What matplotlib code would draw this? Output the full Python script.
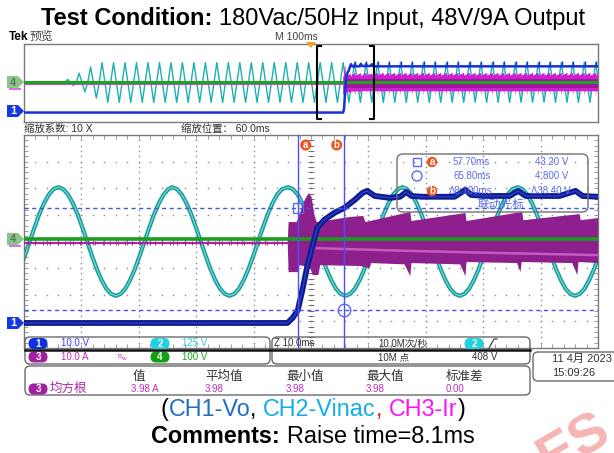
import numpy as np
import matplotlib
matplotlib.use("Agg")
import matplotlib.pyplot as plt
from matplotlib.patches import FancyBboxPatch, Polygon, Circle, Rectangle

plt.rcParams['font.family'] = ['Liberation Sans', 'Noto Sans CJK SC', 'DejaVu Sans']

# vertical scales (per division)
ch1_scale = 10.0    # V, Vo
ch2_scale = 125.0   # V, Vin ac
ch3_scale = 10.0    # A, Ir
ch4_scale = 100.0   # V

# time windows in ms: zoom window (10 ms/div) and overview (100 ms/div)
zoom_win = [10.0, 110.0]
ov_win = [-500.0, 500.0]

# CH1 Vo in the zoom window (ms, V)
vo_t = [10, 55.9, 56.8, 57.7, 58.5, 59.4, 60.3, 61.1, 62.3, 64.1, 65.8, 67.6, 69.0, 69.8, 71.1,
        73.7, 75.5, 76.6, 77.5, 79.4, 85.0, 86.9, 87.9, 90.2, 94.6, 96.1, 97.4, 103.3, 106.1, 107.3, 110]
vo_v = [0, 0, 1.9, 4.8, 12.4, 21.8, 29.3, 35.7, 38.7, 41.4, 43.2, 46.2, 48.9, 49.6, 47.7,
        47.0, 47.4, 49.2, 47.7, 47.4, 47.4, 50.0, 48.1, 47.7, 47.7, 49.6, 47.7, 47.7, 49.6, 47.7, 47.4]

# CH2 Vin: one 20 ms mains cycle read from crest to crest (V), and the crest times (ms)
vin_cycle = [255, 246, 221, 180, 128, 66, 0, -66, -128, -180, -221, -246,
             -255, -246, -221, -180, -128, -66, 0, 66, 128, 180, 221, 246]
vin_crest_t = [-4.0, 16.0, 35.8, 56.0, 75.9, 96.0]

# CH3 Ir band in the zoom window: upper and lower envelope (ms, A)
ir_hi_t = [55.95, 56.1, 57.5, 58.0, 58.9, 59.6, 60.1, 60.6, 61.0, 63.2, 66.7, 69.1, 69.5,
           77.3, 77.5, 86.9, 87.1, 96.8, 97.0, 106.8, 107.0, 110]
ir_hi = [0.8, 7.9, 7.9, 10.9, 16.2, 18.8, 17.3, 10.5, 7.9, 8.6, 9.8, 10.2, 7.9,
         11.7, 8.3, 11.3, 8.3, 11.7, 8.6, 10.9, 8.6, 9.4]
ir_lo_t = [55.95, 56.1, 57.7, 58.0, 59.8, 60.3, 61.3, 61.6, 68.5, 70.2, 70.5, 76.3, 77.3, 77.5,
           86.0, 86.9, 87.1, 95.9, 96.5, 96.7, 105.5, 106.4, 106.6, 110]
ir_lo = [-0.8, -10.9, -10.9, -8.3, -9.0, -12.0, -12.0, -8.3, -8.6, -9.4, -7.5, -8.0, -12.4, -7.5,
         -8.0, -12.4, -7.1, -7.5, -10.9, -7.1, -7.5, -12.0, -7.1, -7.5]
ir_mid_t = [61.0, 75.0, 90.0, 110.0]
ir_mid = [-1.9, -2.8, -3.6, -4.5]
ir_tooth_hi = [8.6, 11.5]     # ripple tooth, start / end of each 10 ms period
ir_tooth_lo = [-7.5, -12.2]

# overview: mains switched on at about -429 ms, first cycles build up (V peak)
ov_vin_start = -429.0
ov_vin_amp = [40, 120, 200] + [255] * 44

# cursors
cur_a_t, cur_b_t = 57.70, 65.80     # ms
cur_a_v, cur_b_v = 43.20, 4.80      # V

ch_labels = ['10.0 V', '125 V', '10.0 A', '100 V']
stat_heads = ['值', '平均值', '最小值', '最大值', '标准差']
stat_vals = ['3.98 A', '3.98', '3.98', '3.98', '0.00']

W, H = 614, 453
fig = plt.figure(figsize=(W / 100, H / 100), dpi=100)
fig.patch.set_facecolor('white')


def px_axes(x0, y0, x1, y1, z=1):
    return fig.add_axes([x0 / W, 1 - y1 / H, (x1 - x0) / W, (y1 - y0) / H], zorder=z)


# ---------------- overview panel ----------------
ax_ov = px_axes(24, 44, 598, 122)
ax_ov.set_xlim(ov_win)
ax_ov.set_ylim(-4, 4)
ax_ov.set_xticks([])
ax_ov.set_yticks([])
for s in ax_ov.spines.values():
    s.set_color('#7a7a7a')
    s.set_linewidth(1.0)
off_ov = {'ch1': -3.03, 'ch2': 0.05, 'ch3': -0.1, 'ch4': 0.1}

t, v = [], []
for i, a in enumerate(ov_vin_amp):
    t0 = ov_vin_start + 20 * i
    t += [t0, t0 + 5, t0 + 10, t0 + 15]
    v += [0, a, 0, -a]
ax_ov.plot(t, np.array(v) / ch2_scale + off_ov['ch2'], color='#1cb0b0', lw=1.0, zorder=2)

# Ir band: zoom-window envelope, then the 10 ms ripple teeth up to the end
drops = np.arange(116.8, ov_win[1] + 10, 10.0)
hi_t = list(ir_hi_t) + [x for d in drops for x in (d - 9.8, d)]
hi_v = list(ir_hi) + [x for d in drops for x in ir_tooth_hi]
lo_t = list(ir_lo_t) + [x for d in drops for x in (d - 1.0, d, d + 0.2)]
lo_v = list(ir_lo) + [x for d in drops for x in (ir_tooth_lo[0], ir_tooth_lo[1], ir_tooth_lo[0])]
ax_ov.fill(hi_t + lo_t[::-1], np.array(hi_v + lo_v[::-1]) / ch3_scale + off_ov['ch3'],
           color='#d01fd0', lw=0, zorder=3)
ax_ov.fill_between([60, ov_win[1]], -4.5 / ch3_scale + off_ov['ch3'], 5.0 / ch3_scale + off_ov['ch3'],
                   color='#a0189f', lw=0, zorder=3)
ax_ov.plot([ov_win[0], vo_t[1]], [off_ov['ch3']] * 2, color='#d040d0', lw=1.4, zorder=3)
ax_ov.axhline(off_ov['ch4'], color='#22a022', lw=2.2, zorder=4)

ov_vo_t = [ov_win[0]] + vo_t + [ov_win[1]]
ov_vo_v = np.array([0] + vo_v + [vo_v[-1]]) / ch1_scale + off_ov['ch1']
ax_ov.plot(ov_vo_t, ov_vo_v, color='#1a2fd6', lw=1.8, zorder=5)
bt = np.arange(76.6, ov_win[1], 20)
ax_ov.plot(bt, np.full_like(bt, 51.0) / ch1_scale + off_ov['ch1'], ls='none', marker='|',
           ms=3, mew=1.0, color='#1a2fd6', zorder=5)

# zoom brackets
for x, d in ((zoom_win[0], 1), (zoom_win[1], -1)):
    ax_ov.plot([x + d * 8, x, x, x + d * 8], [3.8, 3.8, -3.7, -3.7], color='black', lw=1.5, zorder=6)

# ---------------- zoom panel ----------------
ax_m = px_axes(24, 135, 598, 348)
ax_m.set_xlim(zoom_win)
ax_m.set_ylim(-4, 4)
ax_m.set_xticks(np.arange(zoom_win[0], zoom_win[1] + 0.1, 2))
ax_m.set_yticks(np.arange(-4, 4.01, 0.2))
ax_m.tick_params(direction='in', length=3, width=0.6, color='#8a8a8a', top=True, right=True,
                 labelbottom=False, labelleft=False)
for s in ax_m.spines.values():
    s.set_color('#7a7a7a')
    s.set_linewidth(1.0)
off_m = {'ch1': -3.06, 'ch2': 0.0, 'ch3': -0.06, 'ch4': 0.08}

gy = np.arange(-4, 4.01, 0.2)
gx = np.arange(zoom_win[0], zoom_win[1] + 0.1, 2)
for xv in np.arange(zoom_win[0] + 10, zoom_win[1], 10):
    ax_m.plot(np.full_like(gy, xv), gy, ls='none', marker='s', ms=1.0, mew=0, color='#8c8c8c', zorder=1)
for yv in range(-3, 4):
    ax_m.plot(gx, np.full_like(gx, yv), ls='none', marker='s', ms=1.0, mew=0, color='#8c8c8c', zorder=1)
xc = (zoom_win[0] + zoom_win[1]) / 2
ax_m.plot(np.full_like(gy, xc), gy, ls='none', marker='_', ms=4, mew=0.7, color='#6e6e6e', zorder=1)
ax_m.plot(gx, np.zeros_like(gx), ls='none', marker='|', ms=4, mew=0.7, color='#6e6e6e', zorder=1)

vt, vv = [], []
for c in vin_crest_t:
    for k, val in enumerate(vin_cycle):
        vt.append(c + k * 20 / len(vin_cycle))
        vv.append(val)
vv = np.array(vv) / ch2_scale + off_m['ch2']
ax_m.plot(vt, vv, color='#179a9a', lw=3.0, zorder=2, solid_joinstyle='round')
ax_m.plot(vt, vv, color='#74d6d6', lw=0.9, zorder=2)

ax_m.fill(ir_hi_t + ir_lo_t[::-1], np.array(ir_hi + ir_lo[::-1]) / ch3_scale + off_m['ch3'],
          color='#8e208e', lw=0, zorder=3)
ax_m.plot(ir_mid_t, np.array(ir_mid) / ch3_scale + off_m['ch3'], color='#c55ac5', lw=1.8, zorder=3)
ax_m.plot([zoom_win[0], ir_hi_t[0]], [off_m['ch3']] * 2, color='#b51db5', lw=1.6, zorder=3)
nt = np.arange(zoom_win[0] + 0.7, ir_hi_t[0], 1.3)
ax_m.plot(nt, np.full_like(nt, off_m['ch3']), ls='none', marker='|', ms=3.5, mew=0.6, color='#7a2a7a', zorder=4)
ax_m.axhline(off_m['ch4'], color='#1b9e1b', lw=2.6, zorder=4)

vo = np.array(vo_v) / ch1_scale + off_m['ch1']
ax_m.plot(vo_t, vo, color='#0e1c8e', lw=4.2, zorder=5, solid_joinstyle='round')
ax_m.plot(vo_t, vo, color='#2a3cc8', lw=1.0, zorder=5)

cur_col = '#4d4dff'
for ct in (cur_a_t, cur_b_t):
    ax_m.axvline(ct, color=cur_col, lw=1.0, zorder=6)
for cv in (cur_a_v, cur_b_v):
    ax_m.axhline(cv / ch1_scale + off_m['ch1'], color='#3c5ae6', lw=1.0, ls=(0, (3, 2.5)), zorder=6)
ax_m.plot([cur_a_t], [cur_a_v / ch1_scale + off_m['ch1']], marker='s', ms=7, mfc='none', mec='#5a6af0', mew=1.0, zorder=7)
ax_m.plot([cur_b_t], [cur_b_v / ch1_scale + off_m['ch1']], marker='o', ms=9, mfc='none', mec='#5a6af0', mew=1.0, zorder=7)

# ---------------- overlay: texts, badges, boxes ----------------
ax_o = px_axes(0, 0, W, H, z=10)
ax_o.set_xlim(0, W)
ax_o.set_ylim(H, 0)
ax_o.axis('off')
ax_o.patch.set_alpha(0)


def tx(x, y, s, c='#2a2a2a', fs=7, ha='left', **kw):
    return ax_o.text(x, y, s, color=c, fontsize=fs, ha=ha, va='center', **kw)


def badge(x, y, s, fc, w=19, h=11, fs=7):
    ax_o.add_patch(FancyBboxPatch((x - w / 2, y - h / 2), w, h, boxstyle=f'round,pad=0,rounding_size={h / 2}',
                                  fc=fc, ec='none'))
    tx(x, y + 0.5, s, c='white', fs=fs, ha='center', fontweight='bold')


def rbox(x0, y0, x1, y1, r=5, ec='#6a6a6a', lw=1.0):
    ax_o.add_patch(FancyBboxPatch((x0, y0), x1 - x0, y1 - y0, boxstyle=f'round,pad=0,rounding_size={r}',
                                  fc='none', ec=ec, lw=lw))


def ch_marker(y, s, fc, tc, h=12):
    ax_o.add_patch(Polygon([(7, y - h / 2), (18, y - h / 2), (24, y), (18, y + h / 2), (7, y + h / 2)],
                           closed=True, fc=fc, ec='none'))
    tx(13, y + 0.5, s, c=tc, fs=8, ha='center', fontweight='bold')


def rich_line(y, parts, size, xc=313):
    r = fig.canvas.get_renderer()

    def wid(s, wgt):
        t = ax_o.text(0, 0, s, fontsize=size, fontweight=wgt)
        w = t.get_window_extent(renderer=r).width
        t.remove()
        return w
    sp = wid('a a', 'normal') - wid('aa', 'normal')
    items, total = [], 0
    for s, c, wgt in parts:
        lead = sp if s.startswith(' ') else 0
        w = wid(s.strip(), wgt)
        items.append((lead, s.strip(), c, wgt, w))
        total += lead + w
    x = xc - total / 2
    for lead, s, c, wgt, w in items:
        x += lead
        ax_o.text(x, y, s, fontsize=size, color=c, fontweight=wgt, va='baseline', ha='left')
        x += w


rich_line(25, [('Test Condition:', 'black', 'bold'), (' 180Vac/50Hz Input, 48V/9A Output', 'black', 'normal')], 17)
rich_line(416, [('(', 'black', 'normal'), ('CH1-Vo', '#1f6fc0', 'normal'), (',', 'black', 'normal'),
                (' CH2-Vinac', '#12aeea', 'normal'), (',', '#e02020', 'normal'),
                (' CH3-Ir', '#ff10ff', 'normal'), (')', 'black', 'normal')], 16.8)
rich_line(443, [('Comments:', 'black', 'bold'), (' Raise time=8.1ms', 'black', 'normal')], 16.8)

tx(9, 37, 'Tek', c='black', fs=8.5, fontweight='bold')
tx(30, 37, '预览', c='#444444', fs=8.5)
tx(296, 37, 'M 100ms', c='#404040', fs=7.5, ha='center')
ax_o.add_patch(Polygon([(306, 42), (316, 42), (311, 48)], closed=True, fc='#f5a020', ec='none'))
tx(24, 129, '缩放系数: 10 X', c='#303030', fs=7.5)
tx(181, 129, '缩放位置： 60.0ms', c='#303030', fs=7.5)

ch_marker(82, '4', '#8cc48c', '#4f7f4f')
ax_o.add_patch(Rectangle((9, 88), 12, 2, fc='#e070e0', ec='none'))
ch_marker(111, '1', '#1538e0', 'white')
ch_marker(239, '4', '#8cc48c', '#4f7f4f')
ax_o.add_patch(Rectangle((9, 245), 12, 2, fc='#e070e0', ec='none'))
ch_marker(323, '1', '#1538e0', 'white')

# cursor badges and readout
for x, s in ((305.7, 'a'), (336.7, 'b')):
    ax_o.add_patch(Circle((x, 145), 5.5, fc='#f0521c', ec='none'))
    tx(x, 145, s, c='white', fs=7, ha='center', fontweight='bold')
rbox(397, 154, 588, 212, r=6, ec='#707070')
rc = '#5a6af0'
ax_o.add_patch(Rectangle((413, 158), 8, 8, fc='none', ec=rc, lw=1.0))
ax_o.add_patch(Circle((417, 176), 5, fc='none', ec=rc, lw=1.0))
for y, s in ((162, 'a'), (191, 'b')):
    ax_o.add_patch(Circle((432, y), 5.2, fc='#f0521c', ec='none'))
    tx(432, y, s, c='white', fs=7, ha='center', fontweight='bold')
tx(453, 162, f'{cur_a_t:.2f}ms', c=rc)
tx(535, 162, f'{cur_a_v:.2f} V', c=rc)
tx(453, 176, f'{cur_b_t:.2f}ms', c=rc)
tx(535, 176, f'{cur_b_v:.3f} V', c=rc)
tx(449, 191, f'Δ{cur_b_t - cur_a_t:.3f}ms', c=rc)
tx(531, 191, f'Δ{cur_a_v - cur_b_v:.2f} V', c=rc)
tx(501, 205, '联动光标', c=rc, fs=8.5, ha='center')

# channel / timebase boxes
rbox(25, 337, 270, 364)
rbox(272, 337, 530, 364)
ax_o.plot([25, 530], [349.5, 349.5], color='#111111', lw=1.8)
badge(38, 343.5, '1', '#1030e0')
tx(61, 343.5, ch_labels[0], c='#3a3aff')
badge(160, 343.5, '2', '#22d0e0')
tx(182, 343.5, ch_labels[1], c='#2fd0e0')
badge(38, 357, '3', '#a020a0')
tx(61, 357, ch_labels[2], c='#c02cc0')
tx(118, 356, 'B', c='#c02cc0', fs=4.5)
tx(121, 358, 'w', c='#c02cc0', fs=4.5)
badge(160, 357, '4', '#10a010')
tx(182, 357, ch_labels[3], c='#1ea81e')
tx(274, 343.5, 'Z 10.0ms', c='#333333')
tx(378, 343.5, '10.0M次/秒', c='#333333')
badge(474, 343.5, '2', '#22d0e0')
ax_o.plot([489, 494, 497], [348, 339, 339], color='#333333', lw=0.8)
tx(378, 357, '10M 点', c='#333333')
tx(472, 357, '408 V', c='#333333')

rbox(25, 366, 530, 395)
for x, s in zip([133, 205, 286, 366, 446], stat_heads):
    tx(x, 377, s, c='#333333', fs=9)
badge(38, 389, '3', '#a020a0')
tx(50, 389, '均方根', c='#b02ab0', fs=9)
for x, s in zip([131, 205, 286, 366, 446], stat_vals):
    tx(x, 389, s, c='#c02cc0', fs=7)

rbox(533, 352, 622, 381)
tx(552, 359, '11 4月 2023', c='#333333', fs=8)
tx(552, 373, '15:09:26', c='#333333', fs=8)

ax_o.text(574, 474, 'ES', fontsize=40, fontweight='bold', color='#f4a8a8', rotation=30,
          ha='center', va='baseline', alpha=0.85)

fig.savefig('out.png', dpi=100)
